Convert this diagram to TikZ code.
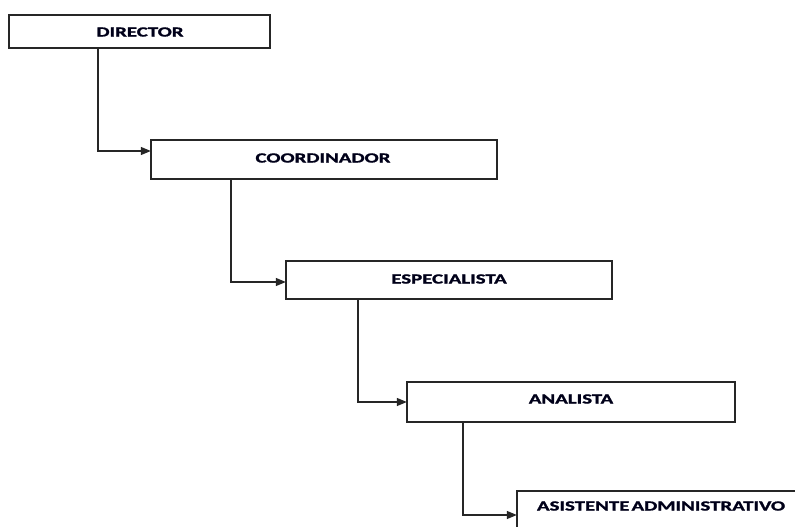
\documentclass[tikz,border=0pt]{standalone}
\usepackage{fontspec}
\setmainfont{Carlito}[BoldFeatures={FakeBold=1.2}]
\usetikzlibrary{arrows.meta}
\begin{document}
\begin{tikzpicture}[x=1pt,y=1pt,
  box/.style={draw=black!85, line width=1.3pt, fill=white},
  lbl/.style={font=\fontsize{14}{16}\selectfont\bfseries, text=black!90!blue},
  conn/.style={draw=black!85, line width=1.3pt, -{Triangle[length=10pt 0,width=8pt 0]}}]
\clip (0,0) rectangle (795,-527);
\fill[white] (0,0) rectangle (795,-527);
% boxes
\path[box] (9,-15) rectangle (270,-48);
\node (dir) [inner sep=0, minimum width=261pt, minimum height=33pt] at (139.5,-31.5) {};
\path[box] (151,-140) rectangle (497,-179);
\node (coo) [inner sep=0, minimum width=346pt, minimum height=39pt] at (324,-159.5) {};
\path[box] (286,-261) rectangle (612,-299);
\node (esp) [inner sep=0, minimum width=326pt, minimum height=38pt] at (449,-280) {};
\path[box] (407,-382) rectangle (735,-422);
\node (ana) [inner sep=0, minimum width=328pt, minimum height=40pt] at (571,-402) {};
\path[box] (517,-491) rectangle (830,-560);
\node (asi) [inner sep=0, minimum width=313pt, minimum height=69pt] at (673.5,-525.5) {};
% labels
\node[lbl] (tdir) at (140,-32) {\scalebox{1.49}[1]{DIRECTOR}};
\node[lbl] (tcoo) at (323,-158) {\scalebox{1.49}[1]{COORDINADOR}};
\node[lbl] (tesp) at (449,-279) {\scalebox{1.49}[1]{ESPECIALISTA}};
\node[lbl] (tana) at (571,-399) {\scalebox{1.49}[1]{ANALISTA}};
\node[lbl] (tasi) at (661,-506) {\scalebox{1.49}[1]{ASISTENTE\hspace{0.1em}ADMINISTRATIVO}};
% connectors
\draw[conn] (dir.south -| 98,0) |- (coo.west |- 0,-151);
\draw[conn] (coo.south -| 231,0) |- (esp.west |- 0,-282);
\draw[conn] (esp.south -| 358,0) |- (ana.west |- 0,-402);
\draw[conn] (ana.south -| 463,0) |- (asi.west |- 0,-515);
\end{tikzpicture}
\end{document}
